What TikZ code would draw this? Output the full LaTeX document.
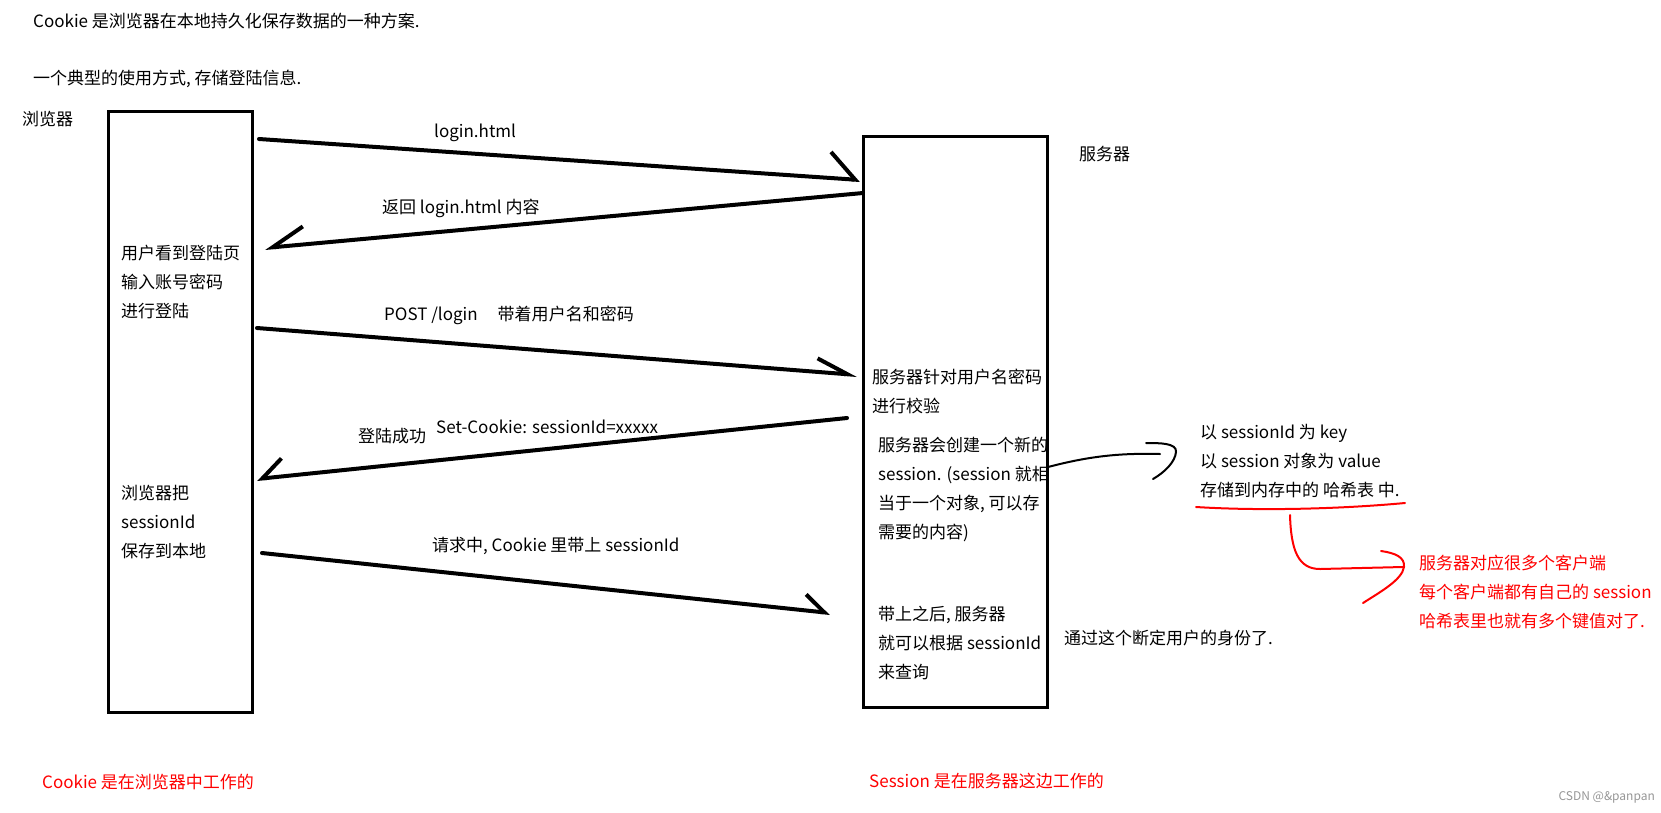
\documentclass[tikz,border=0pt]{standalone}
\usepackage{fontspec}
\setmainfont{Noto Sans CJK SC}
\usetikzlibrary{arrows.meta}
\definecolor{notered}{RGB}{255,0,0}
\definecolor{markgray}{RGB}{150,150,150}

\begin{document}
\begin{tikzpicture}[
    x=1pt, y=-1pt,
    every node/.style={font=\fontsize{17}{29}\selectfont, inner sep=1pt, anchor=west, align=left},
    lifeline/.style={draw, line width=3pt, anchor=center, inner sep=0pt},
    msg/.style n args={2}{line width=4pt, line cap=round,
        -{Straight Barb[harpoon, length=#1 0, width=#2 0]}},
    msgback/.style n args={2}{line width=4pt, line cap=round,
        -{Straight Barb[harpoon, swap, length=#1 0, width=#2 0]}},
    hand/.style={line width=2pt, line cap=round}
]
\useasboundingbox (0,0) rectangle (1661,812);

\def\bx{120}
\def\sx{877}

% heading
\node (intro) at (32,21) {Cookie 是浏览器在本地持久化保存数据的一种方案.};
\node (usage) at (32,79) {一个典型的使用方式, 存储登陆信息.};

% the two sides
\node (bname) at (21,119) {浏览器};
\node (sname) at (1078,154) {服务器};
\node[lifeline, minimum width=144, minimum height=601] (browser) at (180,411.5) {};
\node[lifeline, minimum width=184, minimum height=571] (server) at (955,421.5) {};

% notes inside the boxes
\node (login) at (\bx,282) {用户看到登陆页\\输入账号密码\\进行登陆};
\node (check) at (871,391) {服务器针对用户名密码\\进行校验};
\node (create) at (\sx,489) {服务器会创建一个新的\\session. (session 就相\\当于一个对象, 可以存\\需要的内容)};
\node (store) at (\bx,522) {浏览器把\\sessionId\\保存到本地};
\node (query) at (\sx,643) {带上之后, 服务器\\就可以根据 sessionId\\来查询};
\node (ident) at (1063,638) {通过这个断定用户的身份了.};

% hash table notes
\node (hash) at (1199,461) {以 sessionId 为 key\\以 session 对象为 value\\存储到内存中的 哈希表 中.};
\node[text=notered] (many) at (1418,592) {服务器对应很多个客户端\\每个客户端都有自己的 session\\哈希表里也就有多个键值对了.};

% arrow ends
\coordinate (a1s) at (259,139);
\coordinate (a1e) at (860,180);
\coordinate (a2s) at (863,193);
\coordinate (a2e) at (265,248);
\coordinate (a3s) at (257,328);
\coordinate (a3e) at (857,375);
\coordinate (a4s) at (847,418);
\coordinate (a4e) at (257,479);
\coordinate (a5s) at (262,553);
\coordinate (a5e) at (830,613);

% messages
\draw[msg={26pt}{52pt}] (a1s) -- (a1e);
\draw[msgback={32pt}{36pt}] (a2s) -- (a2e);
\draw[msg={31pt}{27pt}] (a3s) -- (a3e);
\draw[msgback={21pt}{36pt}] (a4s) -- (a4e);
\draw[msg={20pt}{32pt}] (a5s) -- (a5e);

% message labels
\node (m1) at (433,133) {login.html};
\node (m2) at (381,208) {返回 login.html 内容};
\node (m3) at (383,315) {POST /login\hspace{20pt}带着用户名和密码};
\node (m4a) at (357,436) {登陆成功};
\node (m4b) at (435,427) {Set-Cookie: sessionId=xxxxx};
\node (m5) at (431,546) {请求中, Cookie 里带上 sessionId};

% session -> hash table
\coordinate (k0) at (1048,467);
\coordinate (k1) at (1160,454);
\draw[hand] (k0) .. controls (1090,456) and (1120,453) .. (k1);
\draw[hand] (1146,443) .. controls (1160,443) and (1177,443) .. (1176,452)
    .. controls (1175,462) and (1165,472) .. (1153,479);

% underline and red note
\coordinate (u0) at (1196,507);
\coordinate (u1) at (1405,503);
\draw[hand, notered] (u0) .. controls (1260,511) and (1340,509) .. (u1);
\coordinate (r0) at (1290,515);
\coordinate (r1) at (1320,569);
\coordinate (r2) at (1403,567);
\draw[hand, notered] (r0) .. controls (1291,550) and (1298,569) .. (r1) -- (r2);
\draw[hand, notered] (1381,551) .. controls (1395,553) and (1405,557) .. (1404,567)
    .. controls (1402,580) and (1380,592) .. (1363,603);

% bottom notes
\node[text=notered] (cwork) at (41,782) {Cookie 是在浏览器中工作的};
\node[text=notered] (swork) at (868,781) {Session 是在服务器这边工作的};
\node[text=markgray, font=\fontsize{12}{14}\selectfont, anchor=east] (mark) at (1656,797) {CSDN @\&panpan};

\end{tikzpicture}
\end{document}
